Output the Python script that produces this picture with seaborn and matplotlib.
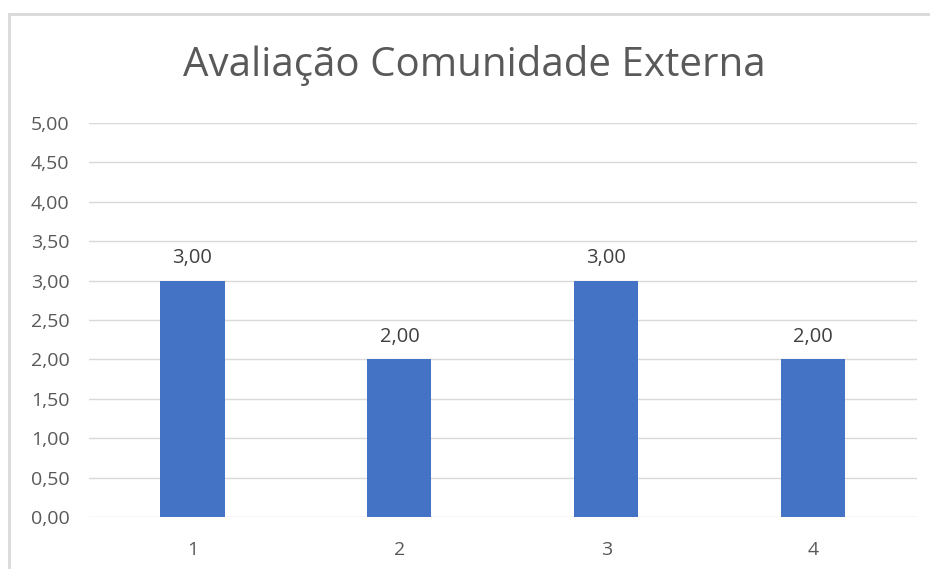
import matplotlib.pyplot as plt
import seaborn as sns
from matplotlib.patches import Rectangle

categories = ["1", "2", "3", "4"]
values = [3.00, 2.00, 3.00, 2.00]
yticks = [0, 0.5, 1, 1.5, 2, 2.5, 3, 3.5, 4, 4.5, 5]

sns.set_style("white")
plt.rcParams["font.family"] = ["Open Sans", "DejaVu Sans"]

fig = plt.figure(figsize=(9.3, 5.69), dpi=100)
ax = fig.add_axes([0.0957, 0.0914, 0.890, 0.6924])

sns.barplot(x=categories, y=values, color="#4472C4", saturation=1, width=0.31,
            linewidth=0, ax=ax)

ax.set_ylim(0, 5)
ax.set_xlim(-0.5, 3.5)
ax.set_yticks(yticks)
ax.set_yticklabels([f"{t:.2f}".replace(".", ",") for t in yticks])
ax.yaxis.grid(True, color="#D9D9D9", linewidth=1)
ax.set_axisbelow(True)
for s in ax.spines.values():
    s.set_visible(False)
ax.tick_params(axis="y", length=0, pad=14, labelsize=14, labelcolor="#595959")
ax.tick_params(axis="x", length=0, pad=17, labelsize=14, labelcolor="#595959")
ax.set_xlabel("")
ax.set_ylabel("")

ax.bar_label(ax.containers[0], fmt=lambda v: f"{v:.2f}".replace(".", ","),
             padding=9, fontsize=14.5, color="#404040")

fig.text(0.51, 0.885, "Avaliação Comunidade Externa", ha="center", va="center",
         fontsize=29, color="#595959")

fig.patches.append(Rectangle((0.0097, -0.1), 1.2, 1.075, transform=fig.transFigure,
                             fill=False, edgecolor="#D9D9D9", linewidth=2))

fig.savefig("out.png", dpi=100)
